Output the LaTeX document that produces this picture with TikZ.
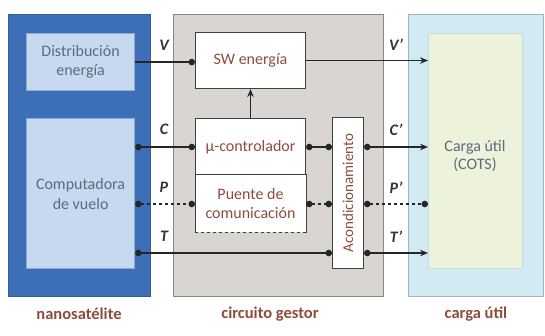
\documentclass[tikz,border=0pt]{standalone}
\usepackage{fontspec}
\setmainfont{Carlito}
\usetikzlibrary{arrows.meta,positioning,calc}
\definecolor{nsblue}{HTML}{3D6FB6}
\definecolor{nslight}{HTML}{C6D9EE}
\definecolor{cgfill}{HTML}{D9D6D1}
\definecolor{cgline}{HTML}{8C8782}
\definecolor{cuouter}{HTML}{D2EAF2}
\definecolor{cuinner}{HTML}{EDF2DA}
\definecolor{culine}{HTML}{9DB8C4}
\definecolor{txbrown}{HTML}{8E4C3C}
\definecolor{txgray}{HTML}{5D6B7E}

\begin{document}
\begin{tikzpicture}[x=1pt, y=-1pt,
  blk/.style={line width=1.2pt, inner sep=0pt, anchor=north west},
  inbox/.style={draw=black!75, fill=white, line width=1pt, inner sep=0pt,
                anchor=north west, font=\fontsize{16}{19}\selectfont,
                text=txbrown, align=center},
  sig/.style={line width=1.5pt, black!85},
  dotend/.tip={Circle[length=6.5pt]},
  sglbl/.style={font=\fontsize{16}{16}\selectfont\bfseries\itshape, text=black!80},
  caption/.style={font=\fontsize{16.5}{18}\selectfont\bfseries, text=txbrown},
  >={Stealth[length=8pt, width=6.5pt]},
]
\useasboundingbox (0,0) rectangle (545,336);

%% ---- bloques ----
% nanosatelite
\node[blk, fill=nsblue, draw=nsblue!85!black, minimum width=142pt, minimum height=282pt]
  (nsat) at (8,14) {};
\node[blk, fill=nslight, draw=nsblue!60, minimum width=108pt, minimum height=57pt,
  font=\fontsize{16}{19}\selectfont, text=txgray, align=center]
  (dist) at (26,33) {Distribución\\energía};
\node[blk, fill=nslight, draw=nsblue!60, minimum width=108pt, minimum height=150pt,
  font=\fontsize{16}{20}\selectfont, text=txgray, align=center]
  (comp) at (26,118) {Computadora\\de vuelo};

% circuito gestor
\node[blk, fill=cgfill, draw=cgline, minimum width=210pt, minimum height=282pt]
  (gest) at (173,14) {};
\node[inbox, minimum width=110pt, minimum height=56pt] (sw) at (195,32) {SW energía};
\node[inbox, minimum width=110pt, minimum height=57pt] (mc) at (195,118) {µ-controlador};
\node[inbox, draw=none, minimum width=110pt, minimum height=57pt] (pc) at (195,175)
  {Puente de\\comunicación};
\draw[line width=1pt, black!75] (pc.south west) -- (pc.north west) -- (pc.north east) -- (pc.south east);
\draw[line width=1pt, black!75, dashed] (pc.south west) -- (pc.south east);
\node[inbox, minimum width=31pt, minimum height=151pt] (acond) at (332,117) {};
\node[font=\fontsize{15}{17}\selectfont, text=txbrown, rotate=90] at (acond.center)
  {Acondicionamiento};

% carga util
\node[blk, fill=cuouter, draw=culine, minimum width=135pt, minimum height=282pt]
  (cu) at (408,14) {};
\node[blk, fill=cuinner, draw=cuouter!70!culine, minimum width=94pt, minimum height=235pt]
  (carga) at (428,33) {};
\node[font=\fontsize{16}{18}\selectfont, text=txgray, align=center] (cargatxt) at (475,156)
  {Carga útil\\(COTS)};

%% ---- señales ----
% V
\draw[sig, -dotend] (dist.east) -- (dist.east -| sw.west);
\draw[sig, ->] (sw.east) -- (sw.east -| carga.west);
% C
\draw[sig, dotend-dotend] (comp.east |- mc.west) -- (mc.west);
\draw[sig, dotend-dotend] (mc.east) -- (mc.east -| acond.west);
\draw[sig, dotend->] (acond.east |- mc.east) -- (carga.west |- mc.east);
% P
\draw[sig, dashed, dotend-dotend] (comp.east |- pc.west) -- (pc.west);
\draw[sig, dashed, dotend-dotend] (pc.east) -- (pc.east -| acond.west);
\draw[sig, dashed, dotend-dotend] (acond.east |- pc.east) -- (carga.west |- pc.east);
% T
\coordinate (tlev) at (0,253);
\draw[sig, dotend-dotend] (comp.east |- tlev) -- (acond.west |- tlev);
\draw[sig, dotend->] (acond.east |- tlev) -- (carga.west |- tlev);
% control
\draw[sig, ->] (mc.north) -- (sw.south);

%% ---- etiquetas ----
\node[sglbl] (vl) at (164,45) {V};
\node[sglbl] (cl) at (164,129) {C};
\node[sglbl] (pl) at (164,187) {P};
\node[sglbl] (tl) at (164,236) {T};
\node[sglbl] (vr) at (396,45) {V'};
\node[sglbl] (cr) at (396,130) {C'};
\node[sglbl] (pr) at (396,188) {P'};
\node[sglbl] (tr) at (396,237) {T'};

\node[caption] (capns) at (79,314) {nanosatélite};
\node[caption] (capcg) at (270,314) {circuito gestor};
\node[caption] (capcu) at (476,314) {carga útil};
\end{tikzpicture}
\end{document}
